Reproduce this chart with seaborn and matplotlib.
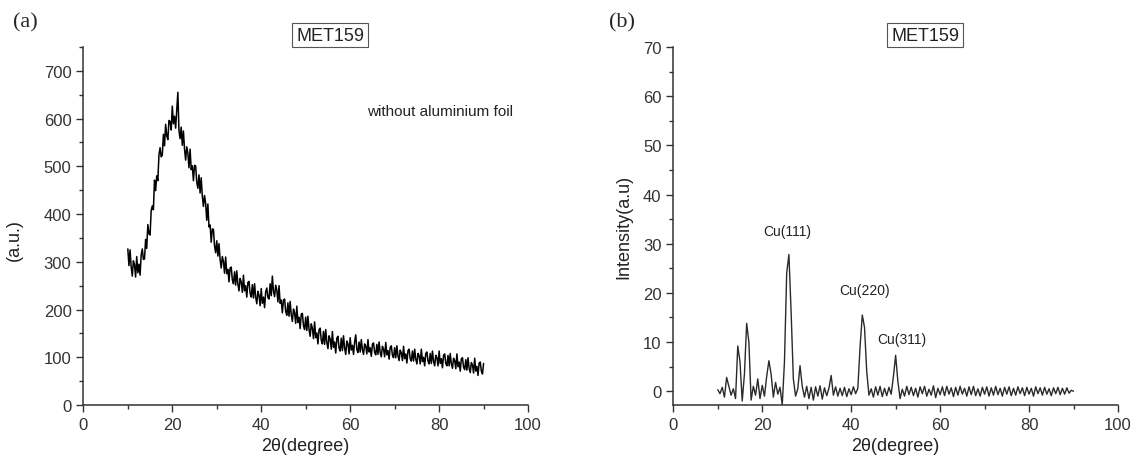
import numpy as np
import pandas as pd
import matplotlib
matplotlib.use("Agg")
import matplotlib.pyplot as plt
import seaborn as sns
from matplotlib.ticker import MultipleLocator

# scan grids: 2theta from 10 to 90 deg
start_2theta = 10.0
step_a = 0.25
step_b = 0.5

# (a) MET159 without aluminium foil (a.u.), one row per degree (10..89) + 90
intensity_a = [
    327, 292, 325, 290,  270, 302, 294, 268,  311, 277, 295, 272,  314, 327, 305, 306,
    347, 328, 378, 359,  356, 407, 417, 409,  471, 449, 480, 470,  524, 539, 520, 523,
    567, 543, 588, 564,  556, 596, 594, 576,  626, 589, 605, 580,  619, 655, 575, 558,
    582, 544, 574, 536,  513, 541, 528, 497,  536, 493, 501, 470,  502, 501, 467, 454,
    482, 444, 476, 438,  416, 439, 422, 387,  421, 373, 377, 341,  369, 368, 333, 319,
    344, 312, 338, 305,  287, 311, 301, 276,  310, 275, 284, 258,  287, 289, 262, 254,
    279, 251, 281, 253,  239, 265, 258, 236,  272, 239, 250, 226,  257, 259, 234, 226,
    252, 224, 254, 226,  212, 238, 230, 208,  244, 213, 226, 204,  237, 245, 225, 222,
    254, 229, 270, 238,  227, 251, 241, 216,  250, 213, 220, 193,  220, 222, 196, 188,
    214, 186, 217, 189,  175, 201, 193, 171,  207, 173, 184, 160,  190, 192, 166, 158,
    184, 156, 186, 158,  144, 170, 161, 139,  174, 141, 151, 128,  158, 161, 135, 128,
    154, 127, 158, 131,  118, 145, 138, 117,  154, 121, 132, 109,  140, 144, 119, 113,
    140, 114, 145, 119,  106, 134, 128, 107,  141, 115, 125, 106,  132, 147, 116, 110,
    132, 111, 137, 116,  106, 128, 123, 107,  137, 111, 120, 102,  127, 130, 110, 105,
    127, 106, 132, 110,  101, 123, 117, 101,  131, 105, 114, 96,   121, 124, 104, 99,
    120, 99, 124, 103,   93, 115, 109, 93,   123, 97, 107, 88,   114, 117, 97, 92,
    113, 92, 117, 96,    86, 108, 103, 86,   117, 91, 100, 82,   108, 111, 92, 86,
    108, 87, 113, 91,    82, 104, 99, 82,    113, 87, 97, 78,    104, 107, 87, 82,
    104, 82, 108, 86,    77, 98, 93, 76,     107, 80, 90, 71,    97, 99, 79, 74,
    95, 73, 99, 77,      68, 89, 84, 67,     98, 71, 81, 62,     88, 90, 71, 65,
    87,
]

# (b) MET159 intensity (a.u), 0.5 deg step
intensity_b = [
    0.3, -0.5, 0.8, -1.2, 2.8, 1.0, -0.8, 0.5, -1.5, 9.2,
    6.0, -2.0, 3.5, 13.8, 10.0, -1.8, 1.0, -0.8, 2.5, -1.5,
    1.2, -1.0, 3.0, 6.2, 3.5, -1.2, 1.8, -0.6, 0.8, -2.8,
    6.0, 24.0, 27.8, 16.0, 2.5, -1.0, 0.5, 5.2, 1.0, -1.2,
    1.0, -1.5, 0.8, -1.8, 0.9, -1.0, 1.1, -1.6, 0.7, -0.9,
    0.6, 3.2, -0.8, 0.9, -1.0, 0.6, -0.9, 0.8, -1.1, 0.5,
    -0.7, 0.9, -0.5, 0.6, 9.0, 15.5, 13.0, 4.0, -0.8, 0.5,
    -1.2, 0.9, -0.8, 1.0, -1.1, 0.6, -0.9, 0.8, -0.6, 3.0,
    7.3, 2.0, -1.5, 0.4, -1.0, 1.0, -0.7, 0.8, -0.9, 0.6,
    -1.2, 0.9, -0.5, 1.0, -1.0, 0.4, -0.8, 1.1, -1.3, 0.6,
    -0.7, 0.9, -0.9, 1.0, -0.6, 0.7, -1.1, 0.8, -0.8, 1.0,
    -0.6, 0.6, -1.0, 0.9, -0.7, 1.0, -0.9, 0.5, -1.0, 0.8,
    -0.6, 0.9, -1.0, 0.7, -0.8, 1.0, -0.7, 0.6, -1.0, 0.8,
    -0.6, 0.9, -0.9, 0.6, -0.8, 0.9, -0.5, 0.7, -0.9, 0.8,
    -0.6, 0.6, -1.0, 0.9, -0.5, 0.7, -0.8, 0.8, -0.6, 0.5,
    -0.9, 0.7, -0.5, 0.8, -0.7, 0.6, -0.6, 0.7, -0.4, 0.2,
    0.0,
]

peak_labels = ["Cu(111)", "Cu(220)", "Cu(311)"]
peak_label_x = [25.7, 42.9, 51.5]
peak_label_y = [32.6, 20.6, 10.6]

df_a = pd.DataFrame({"two_theta": start_2theta + step_a * np.arange(len(intensity_a)),
                     "intensity": intensity_a})
df_b = pd.DataFrame({"two_theta": start_2theta + step_b * np.arange(len(intensity_b)),
                     "intensity": intensity_b})

sns.set_theme(style="ticks")
plt.rcParams['font.family'] = ['Liberation Sans', 'DejaVu Sans']

fig = plt.figure(figsize=(11.31, 4.64), dpi=100)
ax1 = fig.add_axes([0.0737, 0.125, 0.3932, 0.7716])
ax2 = fig.add_axes([0.5953, 0.125, 0.3932, 0.7716])

sns.lineplot(data=df_a, x="two_theta", y="intensity", ax=ax1, color="black", linewidth=1.1)
sns.lineplot(data=df_b, x="two_theta", y="intensity", ax=ax2, color="#2a2a2a", linewidth=1.0)

for ax in (ax1, ax2):
    sns.despine(ax=ax)
    ax.set_xlim(0, 100)
    ax.xaxis.set_major_locator(MultipleLocator(20))
    ax.xaxis.set_minor_locator(MultipleLocator(10))
    ax.tick_params(which="major", direction="out", length=5, width=1, colors="#333333",
                   labelsize=12, labelcolor="#333333")
    ax.tick_params(which="minor", direction="out", length=3, width=1, colors="#333333")
    for s in ("left", "bottom"):
        ax.spines[s].set_color("#333333")
        ax.spines[s].set_linewidth(1.1)
    ax.set_xlabel("2θ(degree)", fontsize=13, color="#222222")

ax1.set_ylim(0, 750)
ax1.yaxis.set_major_locator(MultipleLocator(100))
ax1.yaxis.set_minor_locator(MultipleLocator(50))
ax1.set_ylabel("(a.u.)", fontsize=13, color="#222222")
ax1.yaxis.set_label_coords(-0.135, 0.464)
ax1.text(63.8, 616, "without aluminium foil", fontsize=11, ha="left", va="center", color="#222222")

ax2.set_ylim(-2.8, 70)
ax2.yaxis.set_major_locator(MultipleLocator(10))
ax2.yaxis.set_minor_locator(MultipleLocator(5))
ax2.set_ylabel("Intensity(a.u)", fontsize=13, color="#222222")
ax2.yaxis.set_label_coords(-0.093, 0.5)
for lab, px, py in zip(peak_labels, peak_label_x, peak_label_y):
    ax2.text(px, py, lab, fontsize=10, ha="center", va="center", color="#222222")

box = dict(boxstyle="square,pad=0.2", facecolor="white", edgecolor="#555555", linewidth=0.8)
fig.text(0.2918, 0.922, "MET159", fontsize=13, ha="center", va="center", color="#222222", bbox=box)
fig.text(0.8179, 0.922, "MET159", fontsize=13, ha="center", va="center", color="#222222", bbox=box)

fig.text(0.0221, 0.950, "(a)", fontsize=16, ha="center", va="center", family="Liberation Serif")
fig.text(0.550, 0.950, "(b)", fontsize=16, ha="center", va="center", family="Liberation Serif")

fig.savefig("out.png", dpi=100, facecolor="white")
